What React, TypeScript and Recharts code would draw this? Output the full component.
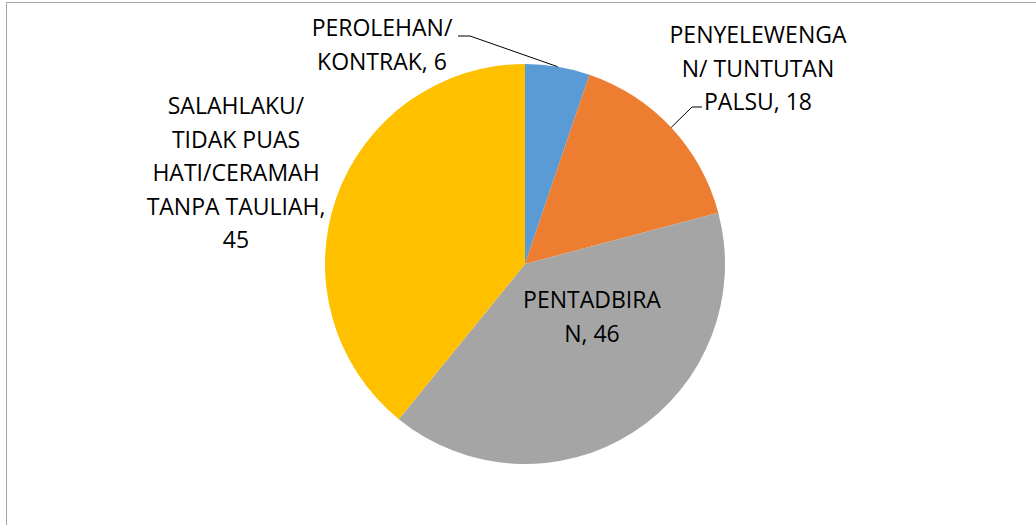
import { PieChart, Pie, Cell } from "recharts";

const CATEGORIES = [
  "PEROLEHAN/ KONTRAK",
  "PENYELEWENGAN/ TUNTUTAN PALSU",
  "PENTADBIRAN",
  "SALAHLAKU/ TIDAK PUAS HATI/CERAMAH TANPA TAULIAH",
];
const VALUES = [6, 18, 46, 45];
// label text as wrapped in the original
const LABEL_LINES = [
  ["PEROLEHAN/", "KONTRAK, 6"],
  ["PENYELEWENGA", "N/ TUNTUTAN", "PALSU, 18"],
  ["PENTADBIRA", "N, 46"],
  ["SALAHLAKU/", "TIDAK PUAS", "HATI/CERAMAH", "TANPA TAULIAH,", "45"],
];

const COLORS = ["#5B9BD5", "#ED7D31", "#A5A5A5", "#FFC000"];
// first baseline of each label, relative to pie centre
const LABEL_OFFSET = [
  [-143, -228],
  [233, -221],
  [67, 44],
  [-289, -150],
];
// leader line: start and elbow relative to centre (null = no leader)
const LEADERS: (number[] | null)[] = [
  [-67, -228, -55, -228],
  [177, -157, 167, -157],
  null,
  null,
];

const data = CATEGORIES.map((name, i) => ({ name, value: VALUES[i] }));
const RAD = Math.PI / 180;
const FONT = "'Open Sans', 'Liberation Sans', sans-serif";

function renderLabel(props: any) {
  const { cx, cy, midAngle, outerRadius, index } = props;
  const [dx, dy] = LABEL_OFFSET[index];
  const lead = LEADERS[index];
  const mx = cx + outerRadius * Math.cos(-midAngle * RAD);
  const my = cy + outerRadius * Math.sin(-midAngle * RAD);
  return (
    <g key={`lbl-${index}`}>
      {lead && (
        <polyline
          points={`${cx + lead[0]},${cy + lead[1]} ${cx + lead[2]},${cy + lead[3]} ${mx},${my}`}
          fill="none"
          stroke="#000"
          strokeWidth={1}
        />
      )}
      <text x={cx + dx} y={cy + dy} textAnchor="middle" fill="#000" fontSize={23} fontFamily={FONT}>
        {LABEL_LINES[index].map((line, j) => (
          <tspan key={j} x={cx + dx} dy={j === 0 ? 0 : 33.5}>
            {line}
          </tspan>
        ))}
      </text>
    </g>
  );
}

export default function App() {
  return (
    <div style={{ position: "absolute", left: 0, top: 0, width: 1036, height: 525, overflow: "hidden", background: "#fff" }}>
      <div
        style={{
          position: "absolute",
          left: 6,
          top: 2,
          width: 1100,
          height: 600,
          border: "1px solid #a6a6a6",
        }}
      />
      <div style={{ position: "absolute", left: 0, top: 0 }}>
        <PieChart width={1036} height={525} margin={{ top: 0, right: 0, bottom: 0, left: 0 }}>
          <Pie
            data={data}
            dataKey="value"
            nameKey="name"
            cx={525}
            cy={264}
            outerRadius={200}
            startAngle={90}
            endAngle={-270}
            stroke="none"
            label={renderLabel}
            labelLine={false}
            isAnimationActive={false}
          >
            {data.map((d, i) => (
              <Cell key={d.name} fill={COLORS[i]} />
            ))}
          </Pie>
        </PieChart>
      </div>
    </div>
  );
}
